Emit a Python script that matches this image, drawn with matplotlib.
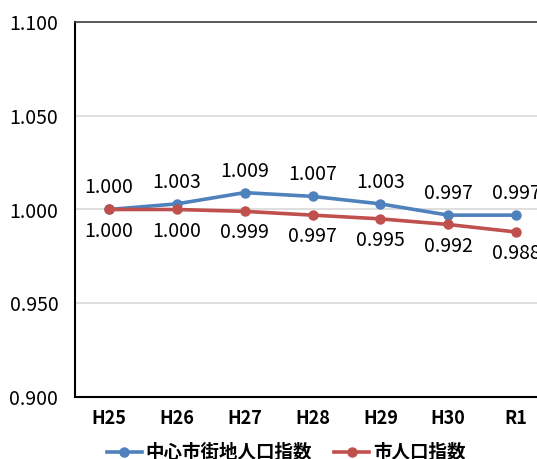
import matplotlib
matplotlib.use("Agg")
import matplotlib.pyplot as plt
from matplotlib.lines import Line2D

plt.rcParams['font.family'] = ['Noto Sans CJK JP', 'DejaVu Sans']

categories = ["H25", "H26", "H27", "H28", "H29", "H30", "R1"]
center_index = [1.000, 1.003, 1.009, 1.007, 1.003, 0.997, 0.997]
city_index = [1.000, 1.000, 0.999, 0.997, 0.995, 0.992, 0.988]
series_names = ["中心市街地人口指数", "市人口指数"]
yticks = [0.900, 0.950, 1.000, 1.050, 1.100]

blue = "#4F81BD"
red = "#C0504D"

W, H = 537, 459
fig = plt.figure(figsize=(W / 100, H / 100), dpi=100)
left, right, top, bottom = 75, 550, 22, 397
ax = fig.add_axes([left / W, 1 - bottom / H, (right - left) / W, (bottom - top) / H])

x = list(range(len(categories)))
ax.plot(x, center_index, color=blue, lw=2.6, marker='o', ms=6.5, zorder=3)
ax.plot(x, city_index, color=red, lw=2.6, marker='o', ms=6.5, zorder=3)

for xi, v in zip(x, center_index):
    ax.annotate(f"{v:.3f}", (xi, v), xytext=(0, 8), textcoords='offset points',
                ha='center', va='bottom', fontsize=14, color='black')
for xi, v in zip(x, city_index):
    ax.annotate(f"{v:.3f}", (xi, v), xytext=(0, -8), textcoords='offset points',
                ha='center', va='top', fontsize=14, color='black')

ax.set_xlim(-0.5, len(categories) - 0.5)
ax.set_ylim(0.9, 1.1)
ax.set_yticks(yticks)
ax.set_yticklabels([f"{t:.3f}" for t in yticks], fontsize=14)
ax.set_xticks(x)
ax.set_xticklabels(categories, fontsize=13, fontweight='bold')
ax.tick_params(length=0, pad=9)
ax.tick_params(axis='y', pad=12)
ax.grid(axis='y', color='#D9D9D9', lw=1.2)
ax.set_axisbelow(True)
for s in ['left', 'bottom']:
    ax.spines[s].set_color('black')
    ax.spines[s].set_linewidth(1.5)
ax.spines['top'].set_color('#404040')
ax.spines['top'].set_linewidth(1.2)
ax.spines['right'].set_visible(False)

handles = [Line2D([], [], color=blue, lw=2.6, marker='o', ms=6.5),
           Line2D([], [], color=red, lw=2.6, marker='o', ms=6.5)]
fig.legend(handles, series_names, loc='center', bbox_to_anchor=(0.533, 0.014),
           ncol=2, frameon=False, prop={'size': 13.3, 'weight': 'bold'},
           handlelength=1.9, handletextpad=0.2, columnspacing=1.2)

fig.savefig("out.png", dpi=100)
